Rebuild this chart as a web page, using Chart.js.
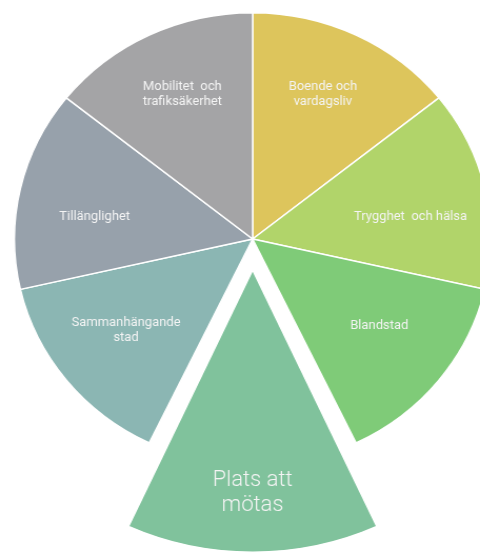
<!DOCTYPE html>
<html lang="sv">
<head>
<meta charset="utf-8">
<title>Plats att mötas</title>
<script src="https://cdn.jsdelivr.net/npm/chart.js@4.4.1/dist/chart.umd.min.js"></script>
<style>
  html, body { margin: 0; padding: 0; background: #fff; }
</style>
</head>
<body>
<canvas id="wheel" width="456" height="559" style="display:block;width:480px;height:559px"></canvas>
<script>
// themes, clockwise from the top
const themes = [
  ['Boende och', 'vardagsliv'],
  ['Trygghet  och hälsa'],
  ['Blandstad'],
  ['Plats att', 'mötas'],
  ['Sammanhängande', 'stad'],
  ['Tillänglighet'],
  ['Mobilitet  och', 'trafiksäkerhet']
];
// every theme weighs the same, the highlighted one reaches further out
const weights = [1, 1, 1, 1.11, 1, 1, 1];
const highlight = 3;

const sliceColors = ['#ddc55c', '#b1d46a', '#7fcb78', '#80c29c', '#8bb6b3', '#97a1ab', '#a4a4a6'];

// the canvas is drawn 456 wide and shown 480 wide, so undo that for the text
const canvas = document.getElementById('wheel');
const squeeze = canvas.width / 480;

// chart.js moves an offset polar arc by offset/4 and grows it by the same
const pullOut = 31;

const sliceLabels = {
  id: 'sliceLabels',
  afterDatasetsDraw(chart) {
    const ctx = chart.ctx;
    const meta = chart.getDatasetMeta(0);
    // small vertical tweaks so the labels sit where the original has them
    const nudge = [-6, 12, -9, 0, -5, 12, -6];
    meta.data.forEach((arc, i) => {
      const { x, y, startAngle, endAngle, outerRadius } =
        arc.getProps(['x', 'y', 'startAngle', 'endAngle', 'outerRadius'], true);
      const shift = (arc.options.offset || 0) / 4;
      const mid = (startAngle + endAngle) / 2;
      const r = shift + (outerRadius + shift) * (shift ? 0.79 : 0.68);
      const big = i === highlight;
      const lines = themes[i];
      const lh = big ? 25 : 15;

      ctx.save();
      ctx.translate(x + Math.cos(mid) * r, y + Math.sin(mid) * r + nudge[i]);
      ctx.scale(squeeze, 1);
      ctx.fillStyle = '#f4f4f4';
      ctx.textAlign = 'center';
      ctx.textBaseline = 'middle';
      ctx.font = big ? '300 22px Roboto' : '400 13px Roboto';
      lines.forEach((t, k) => {
        ctx.fillText(t, 0, (k - (lines.length - 1) / 2) * lh);
      });
      ctx.restore();
    });
  }
};

new Chart(canvas, {
  type: 'polarArea',
  data: {
    labels: themes.map(t => t.join(' ')),
    datasets: [{
      data: weights,
      backgroundColor: sliceColors,
      borderColor: '#ffffff',
      borderWidth: 1.5,
      offset: c => c.dataIndex === highlight ? pullOut * 4 : 0,
      clip: false
    }]
  },
  options: {
    responsive: false,
    animation: false,
    devicePixelRatio: 1,
    layout: { padding: { left: 25, right: 0, top: 24, bottom: 104 } },
    scales: {
      r: { display: false, min: 0, max: 0.95, startAngle: 0 }
    },
    plugins: {
      legend: { display: false },
      tooltip: { enabled: false }
    }
  },
  plugins: [sliceLabels]
});
</script>
</body>
</html>
